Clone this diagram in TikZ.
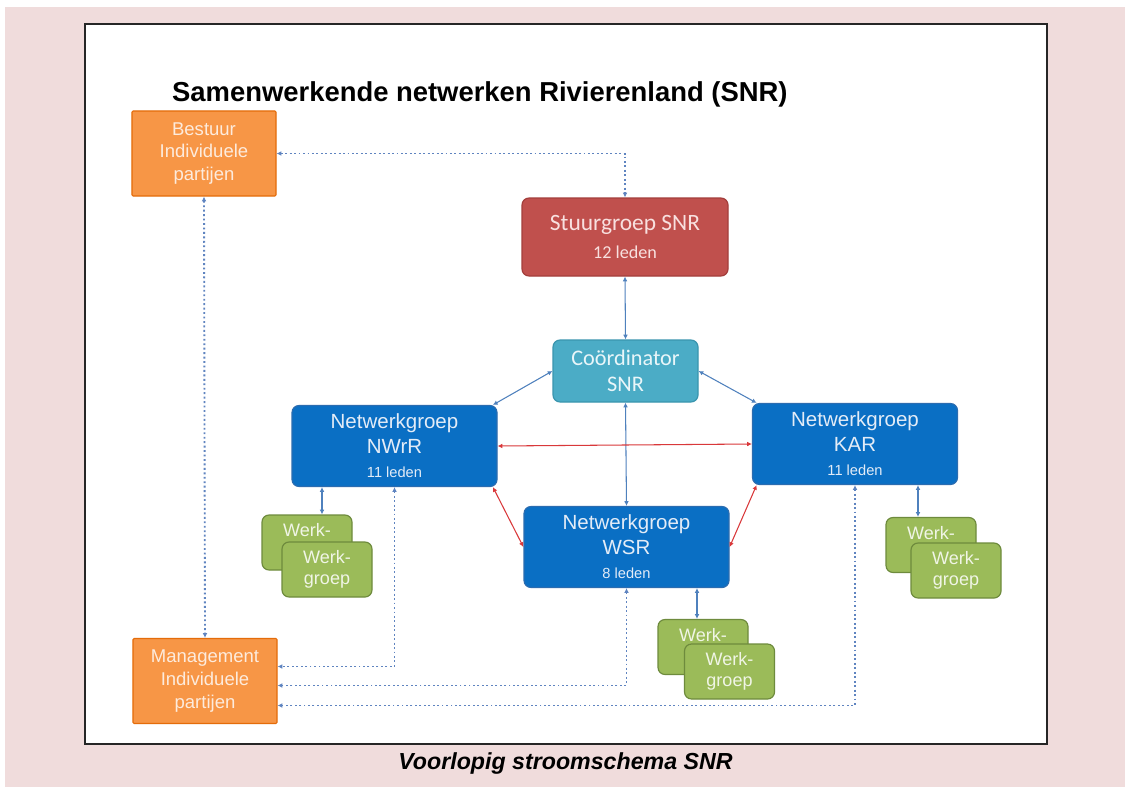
\documentclass[tikz,border=0pt]{standalone}
\usepackage{fontspec}
\setmainfont{Liberation Sans}
\newfontfamily\calibri{Carlito}
\usetikzlibrary{arrows.meta,positioning,calc}
\definecolor{bgpink}{HTML}{F0DCDC}
\definecolor{orfill}{HTML}{F79646}
\definecolor{ordraw}{HTML}{E46C0A}
\definecolor{ortext}{HTML}{FDEBDD}
\definecolor{redfill}{HTML}{C0504D}
\definecolor{reddraw}{HTML}{A33E3B}
\definecolor{redtext}{HTML}{F8E0DF}
\definecolor{cyanfill}{HTML}{4BACC6}
\definecolor{cyandraw}{HTML}{3A95AE}
\definecolor{cyantext}{HTML}{E9F6F9}
\definecolor{bluefill}{HTML}{0A6FC4}
\definecolor{bluedraw}{HTML}{2B6CB0}
\definecolor{bluetext}{HTML}{E3ECF7}
\definecolor{grfill}{HTML}{9BBB59}
\definecolor{grdraw}{HTML}{6E8B3D}
\definecolor{grtext}{HTML}{F0F5E6}
\definecolor{linkblue}{HTML}{4F81BD}
\definecolor{dotblue}{HTML}{5F84C0}
\definecolor{linkred}{HTML}{D9383A}

\begin{document}
\begin{tikzpicture}[x=0.03cm, y=-0.03cm,
  grp/.style={rectangle, draw, rounded corners=6pt, align=center, inner sep=0pt, line width=1pt},
  orbox/.style={grp, fill=orfill, draw=ordraw, rounded corners=1pt, minimum width=4.32cm, minimum height=2.55cm, text=ortext, font=\fontsize{15.8}{19.5}\selectfont},
  redbox/.style={grp, fill=redfill, draw=reddraw, minimum width=6.18cm, minimum height=2.34cm, text=redtext, font=\calibri\fontsize{20}{24}\selectfont},
  cyanbox/.style={grp, fill=cyanfill, draw=cyandraw, minimum width=4.35cm, minimum height=1.86cm, text=cyantext, font=\calibri\fontsize{19}{22}\selectfont},
  netbox/.style={grp, fill=bluefill, draw=bluedraw, minimum width=6.15cm, minimum height=2.43cm, text=bluetext, font=\fontsize{17.5}{21}\selectfont},
  werkbox/.style={grp, fill=grfill, draw=grdraw, minimum width=2.7cm, minimum height=1.65cm, text=grtext, font=\fontsize{15.4}{18}\selectfont},
  arr/.style={{Latex[length=4pt,width=4pt]}-{Latex[length=4pt,width=4pt]}, draw=linkblue, line width=0.9pt},
  redarr/.style={arr, draw=linkred},
  dotarr/.style={arr, draw=dotblue, line width=1.6pt, dash pattern=on 1.6pt off 2.2pt}
]
\useasboundingbox (0,0) rectangle (1125,787);

% Page and frame
\fill[bgpink] (5,7) rectangle (1125,787);
\draw[black!85, line width=1.3pt, fill=white] (85,24) rectangle (1047,744);

% Title
\node[font=\bfseries\fontsize{23.4}{28}\selectfont, anchor=west] (title) at (168,94) {Samenwerkende netwerken Rivierenland (SNR)};

% Individual parties
\node[orbox] (bestuur) at (204,153.5) {Bestuur\\Individuele\\partijen};
\node[orbox] (mgmt) at (205,681) {Management\\Individuele\\partijen};

% Steering group and coordinator
\node[redbox] (stuur) at (625,237) {Stuurgroep SNR\\{\fontsize{15.5}{18}\selectfont 12 leden}};
\node[cyanbox] (coor) at (625.5,371) {Coördinator\\SNR};

% Network groups
\node[netbox] (nwrr) at (394.5,446) {Netwerkgroep\\NWrR\\{\fontsize{12.5}{15}\selectfont 11 leden}};
\node[netbox] (kar) at (855,444) {Netwerkgroep\\KAR\\{\fontsize{12.5}{15}\selectfont 11 leden}};
\node[netbox] (wsr) at (626.5,547) {Netwerkgroep\\WSR\\{\fontsize{12.5}{15}\selectfont 8 leden}};

% Working groups (back one mostly hidden)
\node[werkbox] (wn1) at (307,542.5) {Werk-\\\phantom{groep}};
\node[werkbox] (wn2) at (327,569.5) {Werk-\\groep};
\node[werkbox] (ws1) at (703,647) {Werk-\\\phantom{groep}};
\node[werkbox] (ws2) at (729.5,671.5) {Werk-\\groep};
\node[werkbox] (wk1) at (931,545) {Werk-\\\phantom{groep}};
\node[werkbox] (wk2) at (956,570.5) {Werk-\\groep};

% Caption
\node[font=\bfseries\itshape\fontsize{19.8}{24}\selectfont] (caption) at (565.5,763) {Voorlopig stroomschema SNR};

% Solid links
\draw[arr] (stuur.south) -- (coor.north);
\draw[arr] (coor.west) -- ([xshift=-4pt]nwrr.north east);
\draw[arr] (coor.east) -- ([xshift=4pt]kar.north west);
\draw[arr] (coor.south) -- (wsr.north);
\draw[redarr] (nwrr.east) -- (kar.west);
\draw[redarr] ([xshift=-4pt]nwrr.south east) -- (wsr.west);
\draw[redarr] ([xshift=4pt]kar.south west) -- (wsr.east);

\coordinate (wn) at ([xshift=0.45cm]wn1.north);
\coordinate (ws) at ([xshift=-0.18cm]ws1.north);
\coordinate (wk) at ([xshift=-0.39cm]wk1.north);
\draw[arr] (wn |- nwrr.south) -- (wn);
\draw[arr] (ws |- wsr.south) -- (ws);
\draw[arr] (wk |- kar.south) -- (wk);

% Dotted links
\draw[dotarr] (bestuur.east) -| (stuur.north);
\draw[dotarr] (bestuur.south) -- (mgmt.north);
\draw[dotarr] (nwrr.south) |- ([yshift=0.435cm]mgmt.east);
\draw[dotarr] (wsr.south) |- ([yshift=-0.135cm]mgmt.east);
\draw[dotarr] (kar.south) |- ([yshift=-0.735cm]mgmt.east);

\end{tikzpicture}
\end{document}
